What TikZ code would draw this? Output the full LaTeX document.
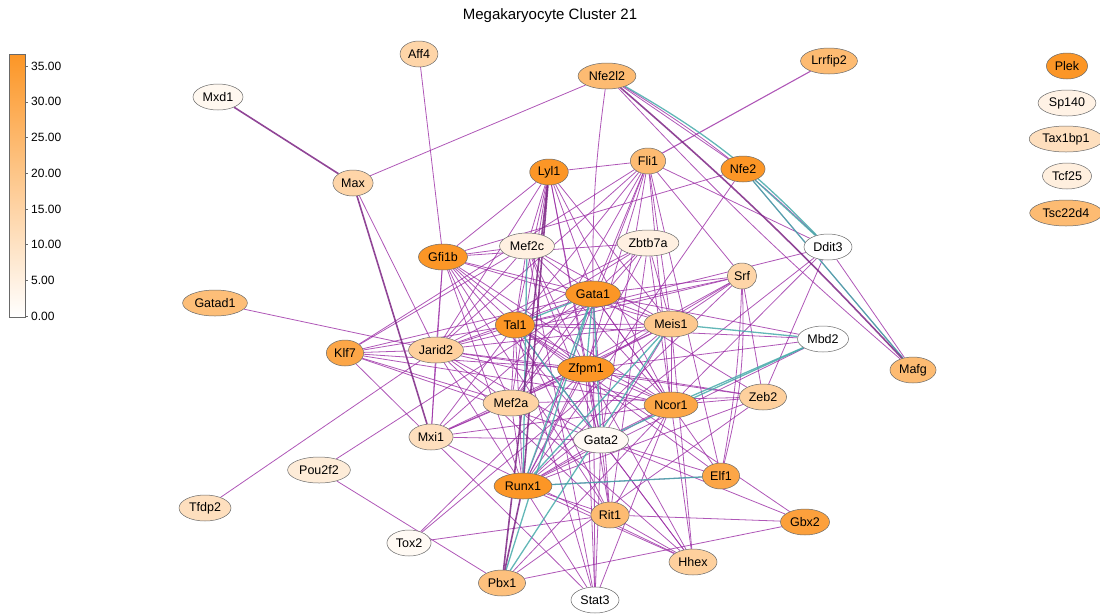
\documentclass[tikz,border=0pt]{standalone}
\usepackage{fontspec}
\setmainfont{Liberation Sans}
\usetikzlibrary{shapes.geometric, backgrounds}
\definecolor{hot}{RGB}{252,150,38}
\definecolor{lnkpurple}{RGB}{155,45,165}
\definecolor{lnkteal}{RGB}{70,170,170}
\definecolor{rimgray}{RGB}{105,105,105}

\begin{document}
\begin{tikzpicture}[x=1pt, y=-1pt,
    gene/.style={ellipse, draw=rimgray, line width=0.5pt, inner xsep=2.4pt, inner ysep=1pt, minimum height=26pt, font=\fontsize{12.5}{15}\selectfont},
    lnk/.style={draw=lnkpurple, line width=0.8pt, opacity=0.8},
    hvy/.style={draw=lnkpurple!80!black, line width=1.6pt, opacity=0.85},
    tl/.style={draw=lnkteal, line width=1.3pt, opacity=0.85}
]
\useasboundingbox (0,0) rectangle (1100,614);

% Title
\node[font=\fontsize{15}{18}\selectfont] (title) at (550,16) {Megakaryocyte Cluster 21};

% Colour scale
\shade[top color=hot, bottom color=white, draw=rimgray, line width=0.6pt] (9,54) rectangle (25,317);
\foreach \i in {0,...,7} {
    \draw[rimgray, line width=0.5pt] (25,316-\i*35.7) -- (28,316-\i*35.7);
    \node[anchor=west, font=\fontsize{12}{14}\selectfont, inner sep=0pt] (tick\i) at (31,316-\i*35.7) {\pgfmathparse{int(\i*5)}\pgfmathresult.00};
}

% Genes
\foreach \n/\x/\y/\v in {Aff4/419/54/40, Mxd1/218/97/7, Max/353/183/40, Nfe2l2/607/76/65,
    Lrrfip2/829/61/65, Lyl1/549/172/100, Fli1/648/161/65, Nfe2/743/169/100,
    Gfi1b/443/257/100, Mef2c/527/246/14, Zbtb7a/648/243/14, Ddit3/828/247/0,
    Srf/742/276/40, Gata1/593/294/100, Gatad1/215/303/62, Tal1/515/325/100,
    Meis1/671/324/52, Mbd2/823/339/0, Klf7/345/353/85, Jarid2/436/350/45,
    Mafg/913/370/65, Zfpm1/586/369/100, Mef2a/511/403/42, Ncor1/671/405/85,
    Zeb2/763/397/45, Mxi1/431/437/30, Gata2/601/440/5, Pou2f2/319/470/18,
    Elf1/721/476/85, Runx1/523/486/100, Tfdp2/205/508/30, Rit1/610/515/65,
    Gbx2/805/522/90, Tox2/409/543/5, Hhex/693/562/45, Pbx1/502/583/60,
    Stat3/595/600/0, Plek/1067/66/100, Sp140/1067/103/12, Tax1bp1/1066/139/30,
    Tcf25/1067/176/15, Tsc22d4/1066/213/65} {
    \node[gene, fill=hot!\v] (\n) at (\x,\y) {\n};
}

% Interactions
\begin{scope}[on background layer]
\foreach \a/\b in {Max/Nfe2l2, Max/Jarid2, Aff4/Gfi1b, Nfe2l2/Nfe2,
    Nfe2/Gfi1b, Nfe2/Runx1, Lyl1/Fli1, Lyl1/Mef2c, Lyl1/Gata1, Lyl1/Tal1, Lyl1/Zfpm1,
    Lyl1/Jarid2, Lyl1/Meis1, Lyl1/Ncor1, Lyl1/Gata2, Lyl1/Gfi1b, Lyl1/Mef2a,
    Fli1/Gata1, Fli1/Tal1, Fli1/Runx1, Fli1/Zfpm1, Fli1/Mef2a, Fli1/Jarid2, Fli1/Srf,
    Fli1/Ncor1, Fli1/Gata2, Fli1/Elf1, Fli1/Meis1, Fli1/Klf7,
    Gfi1b/Mef2c, Gfi1b/Gata1, Gfi1b/Tal1, Gfi1b/Jarid2, Gfi1b/Zfpm1, Gfi1b/Meis1,
    Gfi1b/Runx1, Gfi1b/Mef2a, Gfi1b/Gata2, Gfi1b/Ncor1, Gfi1b/Mxi1, Gfi1b/Rit1, Gfi1b/Zbtb7a,
    Mef2c/Gata1, Mef2c/Tal1, Mef2c/Meis1, Mef2c/Ncor1, Mef2c/Zfpm1, Mef2c/Jarid2,
    Mef2c/Klf7, Mef2c/Gata2, Mef2c/Stat3,
    Zbtb7a/Tal1, Zbtb7a/Gata1, Zbtb7a/Jarid2, Zbtb7a/Runx1, Zbtb7a/Mef2a, Zbtb7a/Meis1,
    Zbtb7a/Ncor1, Zbtb7a/Rit1,
    Ddit3/Fli1, Ddit3/Tal1, Ddit3/Runx1, Ddit3/Zeb2, Ddit3/Ncor1, Ddit3/Mafg,
    Srf/Tal1, Srf/Gata1, Srf/Zfpm1, Srf/Mef2a, Srf/Runx1, Srf/Zeb2, Srf/Jarid2, Srf/Meis1,
    Mbd2/Gata1, Mbd2/Tal1, Mbd2/Runx1, Mbd2/Zfpm1,
    Zeb2/Ncor1, Zeb2/Zfpm1, Zeb2/Mef2a, Zeb2/Runx1, Zeb2/Jarid2, Zeb2/Pbx1,
    Gatad1/Jarid2, Klf7/Jarid2, Klf7/Tal1, Klf7/Zfpm1, Klf7/Mef2a, Klf7/Ncor1,
    Klf7/Gata2, Klf7/Stat3, Klf7/Gata1, Tfdp2/Jarid2, Pou2f2/Gata1, Pou2f2/Pbx1,
    Tox2/Rit1, Tox2/Zfpm1, Tox2/Meis1,
    Mxi1/Jarid2, Mxi1/Tal1, Mxi1/Zfpm1, Mxi1/Gata2, Mxi1/Ncor1, Mxi1/Gata1,
    Mxi1/Hhex, Mxi1/Meis1, Mxi1/Mef2a,
    Jarid2/Tal1, Jarid2/Gata1, Jarid2/Zfpm1, Jarid2/Ncor1, Jarid2/Meis1, Jarid2/Gata2,
    Jarid2/Mef2a, Jarid2/Runx1, Jarid2/Rit1,
    Gata1/Meis1, Gata1/Ncor1, Gata1/Mef2a, Gata1/Elf1, Gata1/Rit1, Gata1/Stat3, Gata1/Zeb2,
    Tal1/Zfpm1, Tal1/Runx1, Tal1/Ncor1, Tal1/Meis1, Tal1/Rit1, Tal1/Hhex, Tal1/Elf1,
    Tal1/Stat3, Tal1/Mef2a, Meis1/Ncor1, Meis1/Hhex, Meis1/Gata2, Meis1/Mef2a,
    Zfpm1/Gata2, Zfpm1/Runx1, Zfpm1/Ncor1, Zfpm1/Hhex, Zfpm1/Rit1,
    Ncor1/Gata2, Ncor1/Runx1, Ncor1/Stat3, Ncor1/Pbx1, Ncor1/Rit1,
    Runx1/Elf1, Runx1/Gata2, Runx1/Rit1, Runx1/Stat3, Runx1/Hhex, Runx1/Mef2a,
    Gata2/Elf1, Gata2/Rit1, Gata2/Stat3, Gata2/Hhex, Gata2/Gbx2,
    Rit1/Gbx2, Rit1/Hhex, Gbx2/Pbx1, Gbx2/Tal1, Hhex/Ncor1, Hhex/Mef2a, Stat3/Zfpm1} {
    \draw[lnk] (\a) -- (\b);
}
\draw[lnk, line width=1.1pt] (Lrrfip2) -- (Fli1);
\draw[lnk] (Nfe2l2) to[bend right=4] (Gata1);
\draw[lnk] (Srf) to[bend left=4] (Elf1);
\draw[lnk] (Srf) to[bend left=8] (Elf1);
\draw[lnk] (Nfe2l2) to[bend left=6] (Ddit3);
\draw[lnk] (Nfe2) -- (Mafg);
% co-expression
\foreach \a/\b in {Gata1/Tal1, Gata1/Zfpm1, Gata1/Runx1, Gata1/Gata2, Gata1/Pbx1,
    Tal1/Gata2, Meis1/Runx1, Meis1/Pbx1, Mbd2/Meis1, Mbd2/Ncor1, Mbd2/Gata2,
    Runx1/Elf1, Mef2c/Runx1, Nfe2/Ddit3, Nfe2/Mafg} {
    \draw[tl] (\a) -- (\b);
}
\draw[tl] (Nfe2l2) to[bend left=8] (Ddit3);
% strong links
\foreach \a/\b in {Mxd1/Max, Max/Mxi1, Lyl1/Runx1, Lyl1/Pbx1, Runx1/Pbx1} {
    \draw[hvy] (\a) -- (\b);
}
\draw[hvy] (Nfe2l2) to[bend left=3] (Mafg);
\draw[lnk] (Nfe2l2) to[bend right=3] (Mafg);
\end{scope}
\end{tikzpicture}
\end{document}
